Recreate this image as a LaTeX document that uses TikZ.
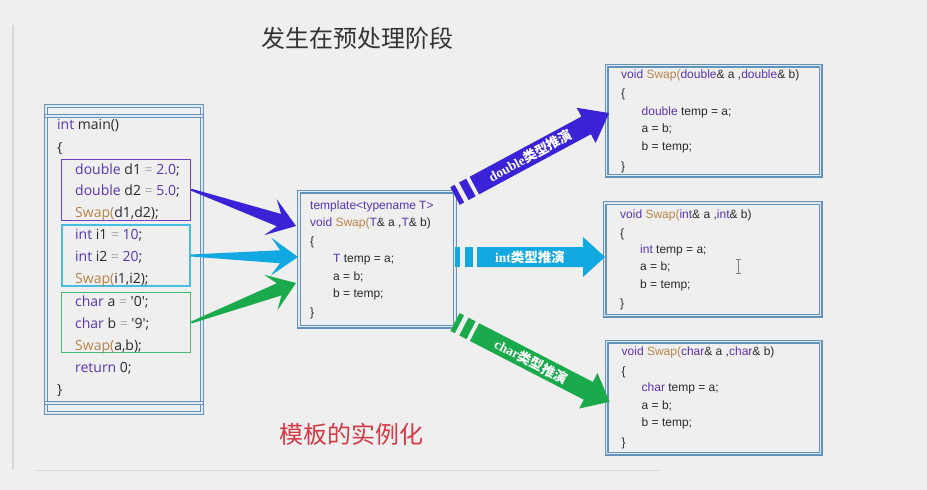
\documentclass[tikz,border=0pt]{standalone}
\usepackage{fontspec}
\usetikzlibrary{calc}
\setmainfont{Liberation Sans}
\newfontfamily\mainfnt{Open Sans}
\newfontfamily\arialfnt{Liberation Sans}
\newfontfamily\cjkfnt{Noto Sans CJK SC}
\newfontfamily\timesfnt{Liberation Serif}
\definecolor{bg}{HTML}{EFEFEF}
\definecolor{boxc}{HTML}{6392BA}
\definecolor{gapc}{HTML}{E2EAF0}
\definecolor{kwc}{HTML}{5A34B0}
\definecolor{fnc}{HTML}{B8834A}
\definecolor{eqc}{HTML}{A8A8A8}
\definecolor{txc}{HTML}{2A2A2A}
\definecolor{purp}{HTML}{3A22D6}
\definecolor{cyanA}{HTML}{12A9E2}
\definecolor{greenA}{HTML}{1AAA4C}
\definecolor{redt}{HTML}{D23A44}
\definecolor{titc}{HTML}{333333}
\definecolor{frameP}{HTML}{6A40C4}
\definecolor{frameC}{HTML}{46BDE2}
\definecolor{frameG}{HTML}{45BB70}
\definecolor{faint}{HTML}{D8D8D8}
\newcommand\KW[1]{\textcolor{kwc}{#1}}
\newcommand\FN[1]{\textcolor{fnc}{#1}}
\newcommand\EQ{\textcolor{eqc}{=}}
\newcommand\SQ{\textquotesingle}
\newcommand\taper[3]{%
  \fill[#3] ($(#1)!1pt!-90:(#2)$) -- ($(#2)!18pt!(#1)!6.5pt!90:(#1)$) -- ($(#2)!27pt!(#1)!19pt!90:(#1)$) -- (#2)
    -- ($(#2)!27pt!(#1)!19pt!-90:(#1)$) -- ($(#2)!18pt!(#1)!6.5pt!-90:(#1)$) -- ($(#1)!1pt!90:(#2)$) -- cycle;}
\begin{document}
\begin{tikzpicture}[x=1pt,y=-1pt,
  dbox/.style={draw=boxc, double=gapc, line width=1.2pt, double distance=1.6pt, inner sep=0pt},
  cbox/.style={draw=#1, line width=1.1pt, inner sep=0pt},
  mcode/.style={anchor=base west, inner sep=0pt, text=txc, font=\mainfnt\fontsize{14}{16}\selectfont},
  tcode/.style={anchor=base west, inner sep=0pt, text=txc, font=\arialfnt\fontsize{12}{14}\selectfont},
  lbl/.style={text=white, inner sep=0pt, font=\bfseries\fontsize{13.5}{15}\selectfont}]
\fill[bg] (0,0) rectangle (927,490);
\useasboundingbox (0,0) rectangle (927,490);
\draw[faint, line width=1.5pt] (13,25) -- (13,470);
\draw[faint, line width=1pt] (35,470) -- (660,470);

% titles
\node[font=\cjkfnt\fontsize{24}{28}\selectfont, text=titc] (title) at (357,38) {发生在预处理阶段};
\node[font=\cjkfnt\fontsize{24}{28}\selectfont, text=redt] (sub) at (351,434) {模板的实例化};

% main box
\node[dbox, minimum width=156pt, minimum height=307pt] (mainbox) at (124,259.5) {};
\draw[boxc, double=gapc, line width=1.2pt, double distance=1.6pt] (mainbox.west |- 0,116) -- (mainbox.east |- 0,116);
\draw[boxc, double=gapc, line width=1.2pt, double distance=1.6pt] (mainbox.west |- 0,403) -- (mainbox.east |- 0,403);
\node[cbox=frameP, minimum width=129pt, minimum height=61pt] (pbox) at (126.2,189.7) {};
\node[cbox=frameC, minimum width=128pt, minimum height=61pt] (cbox) at (126,255.5) {};
\node[cbox=frameG, minimum width=129pt, minimum height=60pt] (gbox) at (126.2,322.5) {};

\node[mcode] (m1) at (57,129) {\KW{int} main()};
\node[mcode] (m2) at (57,152) {\{};
\node[mcode] (m3) at (75,174) {\KW{double} d1 \EQ{} \KW{2.0};};
\node[mcode] (m4) at (75,195) {\KW{double} d2 \EQ{} \KW{5.0};};
\node[mcode] (m5) at (75,217) {\FN{Swap(}d1,d2);};
\node[mcode] (m6) at (75,239) {\KW{int} i1 \EQ{} \KW{10};};
\node[mcode] (m7) at (75,261) {\KW{int} i2 \EQ{} \KW{20};};
\node[mcode] (m8) at (75,283) {\FN{Swap(}i1,i2);};
\node[mcode] (m9) at (75,306) {\KW{char} a \EQ{} \SQ0\SQ;};
\node[mcode] (m10) at (75,328) {\KW{char} b \EQ{} \SQ9\SQ;};
\node[mcode] (m11) at (75,350) {\FN{Swap(}a,b);};
\node[mcode] (m12) at (75,372) {\KW{return} 0;};
\node[mcode] (m13) at (57,394) {\}};

% template box
\node[dbox, minimum width=156.5pt, minimum height=135pt] (tpl) at (377,259) {};
\node[tcode] (t1) at (310,209) {\KW{template<typename T>}};
\node[tcode] (t2) at (310,226.5) {\KW{void} \FN{Swap(}\KW{T}\& a ,\KW{T}\& b)};
\node[tcode] (t3) at (310,245) {\{};
\node[tcode] (t4) at (333,262) {\KW{T} temp = a;};
\node[tcode] (t5) at (333,280) {a = b;};
\node[tcode] (t6) at (333,297) {b = temp;};
\node[tcode] (t7) at (310,316) {\}};

% right boxes
\node[dbox, minimum width=214pt, minimum height=110pt] (r1) at (713.5,120.5) {};
\node[tcode] (a1) at (621,78.3) {\KW{void} \FN{Swap(}\KW{double}\& a ,\KW{double}\& b)};
\node[tcode] (a2) at (621,97) {\{};
\node[tcode] (a3) at (641.5,115) {\KW{double} temp = a;};
\node[tcode] (a4) at (641.5,132.7) {a = b;};
\node[tcode] (a5) at (641.5,150.7) {b = temp;};
\node[tcode] (a6) at (621,170) {\}};

\node[dbox, minimum width=216pt, minimum height=112.5pt] (r2) at (712.5,259.3) {};
\node[tcode] (b1) at (620,218) {\KW{void} \FN{Swap(}\KW{int}\& a ,\KW{int}\& b)};
\node[tcode] (b2) at (620,237) {\{};
\node[tcode] (b3) at (640,253) {\KW{int} temp = a;};
\node[tcode] (b4) at (640,270.7) {a = b;};
\node[tcode] (b5) at (640,288) {b = temp;};
\node[tcode] (b6) at (620,307) {\}};
\draw[gray, line width=0.8pt] (738,259) -- (738,273) (735.5,259) -- (740.5,259) (735.5,273) -- (740.5,273);

\node[dbox, minimum width=214pt, minimum height=112pt] (r3) at (713.5,397.5) {};
\node[tcode] (c1) at (621.5,355.7) {\KW{void} \FN{Swap(}\KW{char}\& a ,\KW{char}\& b)};
\node[tcode] (c2) at (621.5,375) {\{};
\node[tcode] (c3) at (641.5,391) {\KW{char} temp = a;};
\node[tcode] (c4) at (641.5,409) {a = b;};
\node[tcode] (c5) at (641.5,426.7) {b = temp;};
\node[tcode] (c6) at (621.5,446) {\}};

% tapered arrows
\coordinate (tipP) at (296,226);
\coordinate (tipC) at (298,257);
\coordinate (tipG) at (296,283);
\taper{pbox.east}{tipP}{purp}
\taper{cbox.east}{tipC}{cyanA}
\taper{gbox.east}{tipG}{greenA}

% fat arrows
\begin{scope}[shift={(455,196)}, rotate=28.3]
 \fill[purp] (0,-10) rectangle (5,10);
 \fill[purp] (10,-10) rectangle (18,10);
 \fill[purp] (22,-10) -- (149,-10) -- (149,-20) -- (175,0) -- (149,20) -- (149,10) -- (22,10) -- cycle;
 \node[lbl, transform shape] (l1) at (85.5,0) {\timesfnt double\cjkfnt 类型推演};
\end{scope}
\begin{scope}[shift={(455,257)}]
 \fill[cyanA] (0,-10) rectangle (5,10);
 \fill[cyanA] (10,-10) rectangle (18,10);
 \fill[cyanA] (22,-10) -- (128,-10) -- (128,-20) -- (150,0) -- (128,20) -- (128,10) -- (22,10) -- cycle;
 \node[lbl, transform shape] (l2) at (75,0) {\timesfnt int\cjkfnt 类型推演};
\end{scope}
\begin{scope}[shift={(455,322)}, rotate=-27.3]
 \fill[greenA] (0,-10) rectangle (5,10);
 \fill[greenA] (10,-10) rectangle (18,10);
 \fill[greenA] (22,-10) -- (150,-10) -- (150,-20) -- (174,0) -- (150,20) -- (150,10) -- (22,10) -- cycle;
 \node[lbl, transform shape] (l3) at (86,0) {\timesfnt char\cjkfnt 类型推演};
\end{scope}
\end{tikzpicture}
\end{document}
